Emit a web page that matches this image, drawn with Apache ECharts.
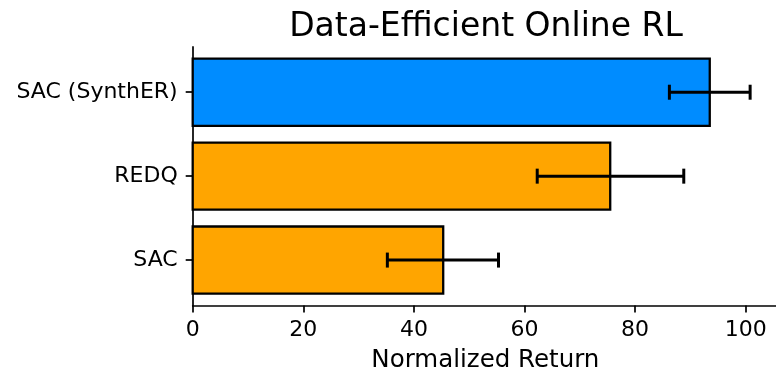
<!DOCTYPE html>
<html>
<head>
<meta charset="utf-8">
<script src="https://cdn.jsdelivr.net/npm/echarts@6/dist/echarts.min.js"></script>
<style>
html,body{margin:0;padding:0;background:#fff;}
#chart{width:776px;height:370px;}
</style>
</head>
<body>
<div id="chart"></div>
<script>
// Data (bottom to top)
const categories = ['SAC', 'REDQ', 'SAC (SynthER)'];
const meanReturn = [45.3, 75.5, 93.5];
const errLow = [35.2, 62.3, 86.2];
const errHigh = [55.3, 88.8, 100.8];
const xTickValues = [0, 20, 40, 60, 80, 100];
const yTickValues = [0, 1, 2];
const highlighted = 'SAC (SynthER)';

const FONT = 'DejaVu Sans';
const chart = echarts.init(document.getElementById('chart'), null, {renderer: 'canvas'});

const barData = categories.map((c, i) => [i, meanReturn[i]]);
const errData = categories.map((c, i) => [i, errLow[i], errHigh[i]]);

const option = {
  animation: false,
  backgroundColor: '#ffffff',
  title: {
    text: 'Data-Efficient Online RL',
    left: 481, top: 6, textAlign: 'center',
    textStyle: {fontFamily: FONT, fontSize: 33, fontWeight: 'normal', color: '#000'}
  },
  grid: {left: 192.7, width: 585.3, top: 46.9, height: 258.5, containLabel: false, outerBoundsMode: 'none'},
  xAxis: {
    type: 'value', min: 0, max: 105.84, interval: 20,
    name: 'Normalized Return', nameLocation: 'middle', nameGap: 43,
    nameTextStyle: {fontFamily: FONT, fontSize: 24.5, color: '#000'},
    axisLine: {show: true, onZero: false, lineStyle: {color: '#000', width: 1.7}},
    axisTick: {show: true, length: 7, lineStyle: {color: '#000', width: 1.7}, customValues: xTickValues},
    axisLabel: {fontFamily: FONT, fontSize: 22, color: '#000', margin: 14, customValues: xTickValues},
    splitLine: {show: false}
  },
  yAxis: {
    type: 'value', min: -0.54, max: 2.54,
    axisLine: {show: true, onZero: false, lineStyle: {color: '#000', width: 1.7}},
    axisTick: {show: true, length: 7, lineStyle: {color: '#000', width: 1.7}, customValues: yTickValues},
    axisLabel: {
      fontFamily: FONT, fontSize: 22, color: '#000', margin: 15,
      customValues: yTickValues,
      formatter: v => categories[Math.round(v)]
    },
    splitLine: {show: false}
  },
  series: [
    {
      type: 'custom', data: barData,
      encode: {x: 1, y: 0},
      z: 5,
      renderItem: (params, api) => {
        const idx = api.value(0);
        const p0 = api.coord([0, idx]);
        const p1 = api.coord([api.value(1), idx]);
        const h = api.size([0, 0.8])[1];
        return {
          type: 'rect',
          shape: {x: p0[0], y: p0[1] - h / 2, width: p1[0] - p0[0], height: h},
          style: {
            fill: categories[idx] === highlighted ? '#008cff' : '#ffa500',
            stroke: '#000', lineWidth: 2.3
          }
        };
      }
    },
    {
      type: 'custom', data: errData,
      encode: {x: [1, 2], y: 0},
      z: 10,
      renderItem: (params, api) => {
        const idx = api.value(0);
        const p1 = api.coord([api.value(1), idx]);
        const p2 = api.coord([api.value(2), idx]);
        const h = 7.5;
        const style = {stroke: '#000', lineWidth: 3, fill: null};
        return {
          type: 'group',
          children: [
            {type: 'line', shape: {x1: p1[0], y1: p1[1], x2: p2[0], y2: p2[1]}, style},
            {type: 'line', shape: {x1: p1[0], y1: p1[1] - h, x2: p1[0], y2: p1[1] + h}, style},
            {type: 'line', shape: {x1: p2[0], y1: p2[1] - h, x2: p2[0], y2: p2[1] + h}, style}
          ]
        };
      }
    }
  ]
};
chart.setOption(option);
</script>
</body>
</html>
